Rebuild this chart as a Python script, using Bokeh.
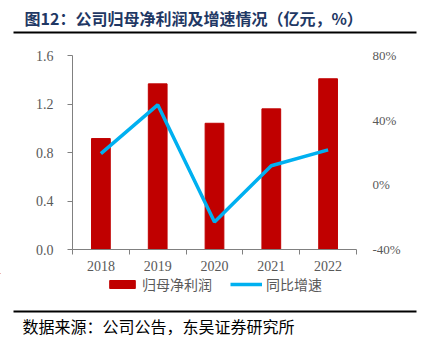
from bokeh.plotting import figure
from bokeh.models import (Range1d, LinearAxis, FixedTicker, Legend, LegendItem,
                          PrintfTickFormatter, NumeralTickFormatter, ColumnDataSource)
from bokeh.layouts import column
from bokeh.embed import file_html
from bokeh.resources import INLINE
from bokeh.core.properties import value

years = ["2018", "2019", "2020", "2021", "2022"]
profit = [0.915, 1.366, 1.041, 1.16, 1.408]
growth = [19.3, 49.5, -23.0, 11.8, 21.6]
left_ticks = [0.0, 0.4, 0.8, 1.2, 1.6]
right_ticks = [-40, 0, 40, 80]
title_text = "图12：公司归母净利润及增速情况（亿元，%）"
source_text = "数据来源：公司公告，东吴证券研究所"
legend_labels = ["归母净利润", "同比增速"]

W = 427
SERIF = "Liberation Serif"
CJK = "Noto Sans CJK SC"
GRAY = "#595959"
RED = "#C00000"
BLUE = "#00B0F0"

def blank(h):
    f = figure(width=W, height=h, x_range=Range1d(0, W), y_range=Range1d(h, 0),
               x_axis_type=None, y_axis_type=None, output_backend="svg",
               toolbar_location=None, min_border=0, frame_align=False)
    f.grid.visible = False
    f.outline_line_color = None
    return f

# header (page y 0..38)
hdr = blank(38)
hdr.text(x=[24], y=[17], text=[title_text], text_font=value(CJK), text_font_size="16px",
         text_font_style="bold", text_color="#1F3864", text_baseline="middle")
hdr.segment(x0=[13], y0=[32], x1=[416], y1=[32], line_color="black", line_width=2)

# main (page y 38..273)
xs = [i + 0.5 for i in range(len(years))]
src = ColumnDataSource(dict(x=xs, profit=profit, growth=growth))
p = figure(width=W, height=235, x_range=Range1d(0, 5), y_range=Range1d(0, 1.6),
           output_backend="svg", toolbar_location=None, frame_align=False,
           min_border_left=72, min_border_right=71, min_border_top=17, min_border_bottom=10)
p.extra_y_ranges = {"g": Range1d(-40, 80)}
p.grid.visible = False
p.outline_line_color = None

p.vbar(x="x", top="profit", width=0.33, source=src, color=RED)
p.line(x="x", y="growth", source=src, y_range_name="g", line_color=BLUE, line_width=3.5)

xa = p.xaxis[0]
xa.ticker = FixedTicker(ticks=xs, minor_ticks=list(range(6)))
xa.major_label_overrides = {x: y for x, y in zip(xs, years)}
xa.major_tick_line_color = None
xa.major_tick_out = 0
xa.minor_tick_out = 5
xa.minor_tick_in = 0
xa.minor_tick_line_color = "#808080"
xa.axis_line_color = "#808080"
xa.major_label_text_font = SERIF
xa.major_label_text_font_size = "14px"
xa.major_label_text_color = GRAY
xa.major_label_standoff = 6

ya = p.yaxis[0]
ya.ticker = FixedTicker(ticks=left_ticks)
ya.minor_tick_line_color = None
ya.major_tick_out = 5
ya.major_tick_in = 0
ya.major_tick_line_color = "#808080"
ya.axis_line_color = "#808080"
ya.major_label_text_font = SERIF
ya.major_label_text_font_size = "14px"
ya.major_label_text_color = GRAY
ya.major_label_standoff = 14
ya.formatter = NumeralTickFormatter(format="0.0")

ra = LinearAxis(y_range_name="g", ticker=FixedTicker(ticks=right_ticks),
                formatter=PrintfTickFormatter(format="%d%%"))
ra.axis_line_color = None
ra.major_tick_line_color = None
ra.minor_tick_line_color = None
ra.major_label_text_font = SERIF
ra.major_label_text_font_size = "13px"
ra.major_label_text_color = GRAY
ra.major_label_standoff = 10
p.add_layout(ra, "right")

# footer with legend (page y 273..340)
FH = 67
ftr = blank(FH)
lb = ftr.vbar(x=[-1000], top=[-1000], bottom=[-1001], width=1, color=RED)
ll = ftr.line(x=[-1000, -999], y=[-1000, -1000], line_color=BLUE, line_width=3.5)
leg = Legend(items=[LegendItem(label=legend_labels[0], renderers=[lb]),
                    LegendItem(label=legend_labels[1], renderers=[ll])],
             orientation="horizontal", location=(106, 46),
             label_text_font=CJK, label_text_font_size="14px", label_text_color=GRAY,
             glyph_width=32, glyph_height=10, spacing=18, padding=0, margin=0,
             border_line_color=None, background_fill_alpha=0, label_standoff=4)
ftr.add_layout(leg)
ftr.segment(x0=[13], y0=[38], x1=[416], y1=[38], line_color="black", line_width=2)
ftr.text(x=[22], y=[52], text=[source_text], text_font=value(CJK), text_font_size="16px",
         text_color="#000000", text_baseline="middle")

layout = column(hdr, p, ftr, spacing=0)
open("out.html", "w").write(file_html(layout, INLINE))
